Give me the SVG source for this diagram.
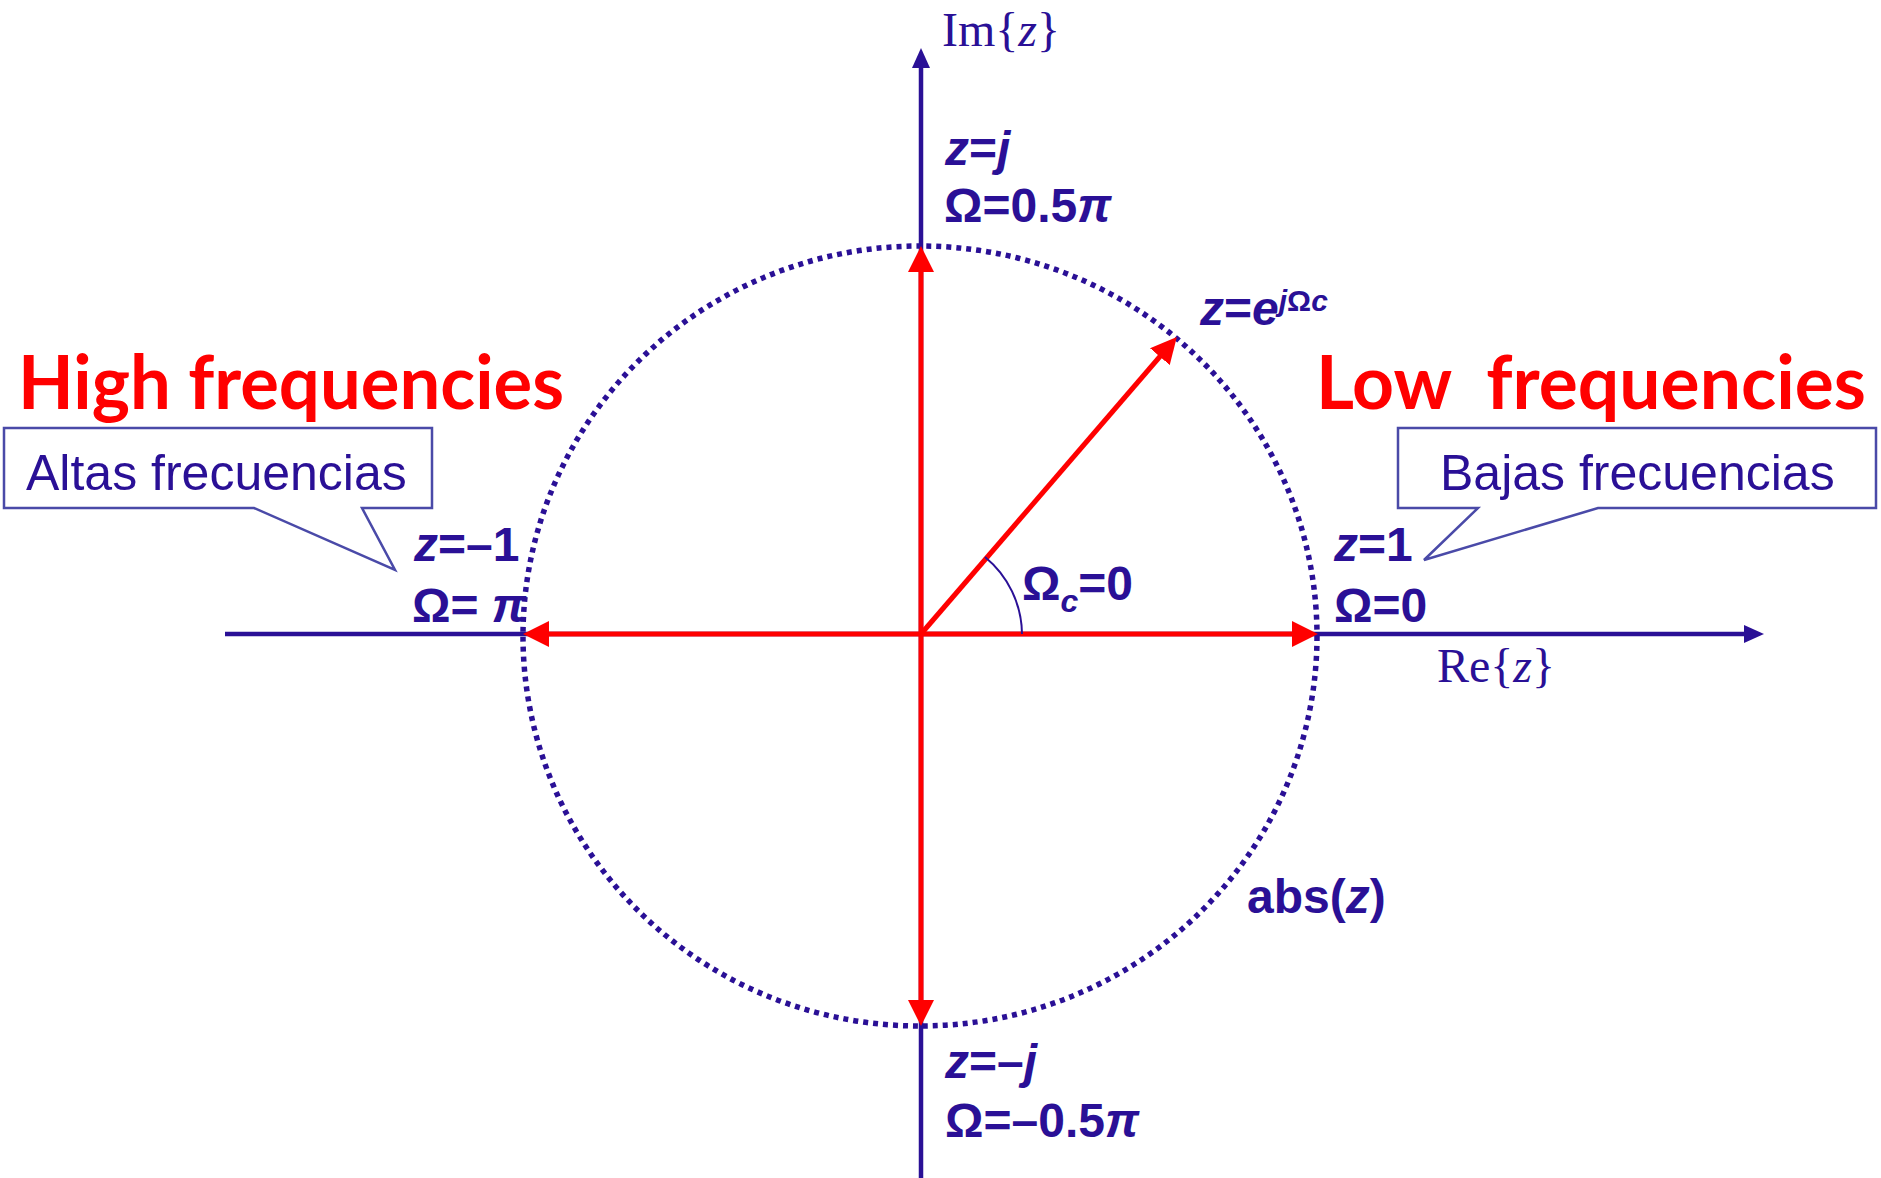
<svg xmlns="http://www.w3.org/2000/svg" width="1881" height="1178" viewBox="0 0 1881 1178">
<style>
.lbl{font-family:"Liberation Sans",Arial,sans-serif;font-weight:bold;font-size:48px;fill:#2a1096}
.it{font-style:italic}
.math{font-family:"Liberation Serif","Times New Roman",serif;font-size:48px;fill:#2a1096}
.big{font-family:Lato,"Open Sans",sans-serif;font-weight:bold;font-size:74px;fill:#ff0000}
.box{fill:#ffffff;stroke:#4a4aa8;stroke-width:2.5}
.boxtxt{font-family:"Liberation Sans",Arial,sans-serif;font-size:50px;fill:#2a1096}
.axis{stroke:#2a1096;stroke-width:4.5;fill:none}
.red{stroke:#ff0000;stroke-width:5;fill:none}
</style>
<defs>
<marker id="ra" markerUnits="userSpaceOnUse" markerWidth="26" markerHeight="26" refX="14" refY="13" orient="auto"><path d="M0,0 L26,13 L0,26 Z" fill="#ff0000"/></marker>
<marker id="na" markerUnits="userSpaceOnUse" markerWidth="20" markerHeight="18" refX="10" refY="9" orient="auto"><path d="M0,0 L20,9 L0,18 Z" fill="#2a1096"/></marker>
</defs>
<rect width="1881" height="1178" fill="#ffffff"/>
<g id="unit-circle">
<ellipse cx="920" cy="636" rx="397" ry="390" fill="none" stroke="#2a1096" stroke-width="5.5" stroke-dasharray="5 5"/>
</g>
<g id="connectors">
<line class="axis" x1="225" y1="634" x2="1754" y2="634" marker-end="url(#na)"/>
<line class="axis" x1="921" y1="1178" x2="921" y2="58" marker-end="url(#na)"/>
<line class="red" x1="921" y1="634" x2="1306" y2="634" marker-end="url(#ra)"/>
<line class="red" x1="921" y1="634" x2="535" y2="634" marker-end="url(#ra)"/>
<line class="red" x1="921" y1="634" x2="921" y2="258" marker-end="url(#ra)"/>
<line class="red" x1="921" y1="634" x2="921" y2="1014" marker-end="url(#ra)"/>
<line class="red" x1="921" y1="634" x2="1169" y2="346" marker-end="url(#ra)"/>
<path d="M985,557 A101,101 0 0 1 1022,634" fill="none" stroke="#2a1096" stroke-width="2"/>
</g>
<g id="axis-labels">
<text class="math" x="942" y="46">Im{<tspan class="it">z</tspan>}</text>
<text class="math" x="1437" y="682">Re{<tspan class="it">z</tspan>}</text>
</g>
<g id="point-j">
<text class="lbl" x="945" y="165"><tspan class="it">z</tspan>=<tspan class="it">j</tspan></text>
<text class="lbl" x="944" y="222">Ω=0.5<tspan class="it">π</tspan></text>
</g>
<g id="point-minus1">
<text class="lbl" x="414" y="561"><tspan class="it">z</tspan>=–1</text>
<text class="lbl" x="412" y="622">Ω= <tspan class="it">π</tspan></text>
</g>
<g id="point-1">
<text class="lbl" x="1334" y="561"><tspan class="it">z</tspan>=1</text>
<text class="lbl" x="1334" y="622">Ω=0</text>
</g>
<g id="point-minusj">
<text class="lbl" x="945" y="1078"><tspan class="it">z</tspan>=–<tspan class="it">j</tspan></text>
<text class="lbl" x="945" y="1137">Ω=–0.5<tspan class="it">π</tspan></text>
</g>
<g id="point-ejw">
<text class="lbl" x="1200" y="325"><tspan class="it">z</tspan>=<tspan class="it">e</tspan><tspan font-size="30" dy="-14"><tspan class="it">j</tspan>Ω<tspan class="it">c</tspan></tspan></text>
</g>
<g id="angle-label">
<text class="lbl" x="1022" y="600">Ω<tspan class="it" font-size="32" dy="12">c</tspan><tspan dy="-12">=0</tspan></text>
</g>
<g id="abs-label">
<text class="lbl" x="1247" y="913">abs(<tspan class="it">z</tspan>)</text>
</g>
<g id="high-freq">
<text class="big" x="18" y="409" textLength="546" lengthAdjust="spacingAndGlyphs">High frequencies</text>
</g>
<g id="low-freq">
<text class="big" x="1316" y="409" textLength="550" lengthAdjust="spacingAndGlyphs" xml:space="preserve">Low  frequencies</text>
</g>
<g id="callout-altas">
<path class="box" d="M4,428 H432 V508 H362 L395,570 L254,508 H4 Z"/>
<text class="boxtxt" x="26" y="490">Altas frecuencias</text>
</g>
<g id="callout-bajas">
<path class="box" d="M1398,428 H1876 V508 H1598 L1424,560 L1478,508 H1398 Z"/>
<text class="boxtxt" x="1440" y="490">Bajas frecuencias</text>
</g>
</svg>
